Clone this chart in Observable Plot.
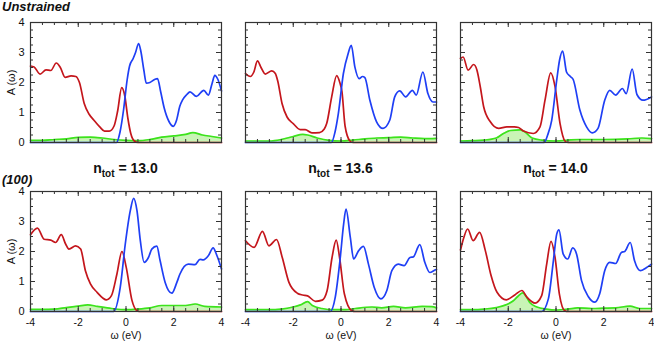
<!DOCTYPE html>
<html>
<head>
<meta charset="utf-8">
<script src="https://cdn.jsdelivr.net/npm/d3@7"></script>
<script src="https://cdn.jsdelivr.net/npm/@observablehq/plot@0.6"></script>
<style>
  body { margin: 0; background: #fff; }
  #chart { position: relative; width: 654px; height: 341px; font-family: "Liberation Sans", Arial, sans-serif; color: #111; }
  .lab { position: absolute; white-space: nowrap; font-weight: bold; }
  .row { font-style: italic; font-size: 13px; line-height: 13px; left: 2px; }
  .ntot { font-size: 14px; line-height: 14px; width: 200px; text-align: center; }
  .ntot span { font-size: 10px; position: relative; top: 4px; }
  .cell { position: absolute; }
</style>
</head>
<body>
<div id="chart"></div>
<script>
// ---- labels ----
const rowLabels = ["Unstrained", "(100)"];
const nTot = ["13.0", "13.6", "14.0"];
const xMajor = [-4, -2, 0, 2, 4];
const xMinor = [-3.5, -3, -2.5, -2, -1.5, -1, -0.5, 0, 0.5, 1, 1.5, 2, 2.5, 3, 3.5];
const yMajor = [0, 1, 2, 3, 4];
const yMinor = [0.25, 0.5, 0.75, 1.25, 1.5, 1.75, 2.25, 2.5, 2.75, 3.25, 3.5, 3.75];
const yMajorInner = [1, 2, 3];

// ---- Unstrained, n_tot = 13.0 ----
const red_u130 = [[-4,2.55],[-3.85,2.52],[-3.6,2.28],[-3.35,2.42],[-3.15,2.4],[-2.92,2.65],[-2.75,2.5],[-2.55,2.17],[-2.3,2.22],[-2.1,2.2],[-1.95,2.0],[-1.75,1.3],[-1.55,0.95],[-1.35,0.75],[-1.1,0.52],[-0.9,0.38],[-0.7,0.38],[-0.5,0.55],[-0.35,1.05],[-0.18,1.83],[-0.05,1.55],[0.08,0.8],[0.2,0.3],[0.35,0.05],[0.5,0],[4,0]];
const blue_u130 = [[-4,0],[-0.4,0],[-0.25,0.35],[-0.1,1.1],[0.05,2.1],[0.15,2.55],[0.3,2.8],[0.4,3.0],[0.53,3.3],[0.62,3.05],[0.75,2.4],[0.85,1.98],[1.0,2.0],[1.2,2.1],[1.32,2.13],[1.45,1.7],[1.6,1.15],[1.8,0.7],[1.98,0.54],[2.12,0.75],[2.25,1.2],[2.37,1.42],[2.55,1.6],[2.68,1.69],[2.95,1.54],[3.26,1.74],[3.45,1.58],[3.6,1.95],[3.72,2.24],[3.85,2.1],[4,1.72]];
const green_u130 = [[-4,0.07],[-3.5,0.07],[-3,0.1],[-2.5,0.12],[-2,0.17],[-1.5,0.18],[-1,0.15],[-0.5,0.1],[0,0.07],[0.5,0.06],[1,0.1],[1.5,0.18],[2,0.22],[2.5,0.27],[2.8,0.33],[3.2,0.25],[3.6,0.2],[4,0.15]];

// ---- Unstrained, n_tot = 13.6 ----
const red_u136 = [[-4,2.3],[-3.8,2.2],[-3.65,2.35],[-3.5,2.72],[-3.35,2.5],[-3.17,2.28],[-2.9,2.39],[-2.75,2.3],[-2.65,2.05],[-2.47,1.3],[-2.26,0.85],[-2.0,0.63],[-1.71,0.43],[-1.5,0.43],[-1.22,0.32],[-0.9,0.33],[-0.7,0.45],[-0.6,0.63],[-0.39,1.52],[-0.18,2.23],[-0.05,2.0],[0.04,1.7],[0.17,0.55],[0.375,0.05],[0.5,0],[4,0]];
const blue_u136 = [[-4,0],[-0.4,0],[-0.25,0.35],[-0.11,0.97],[0.1,2.3],[0.3,2.97],[0.43,3.24],[0.58,2.52],[0.76,2.13],[0.9,2.2],[1.0,2.16],[1.21,1.41],[1.49,0.69],[1.76,0.47],[2.04,0.74],[2.25,1.52],[2.46,1.72],[2.71,1.52],[2.99,1.74],[3.15,1.58],[3.43,2.35],[3.64,1.63],[3.85,1.35],[4,1.35]];
const green_u136 = [[-4,0.05],[-3,0.05],[-2.5,0.1],[-2,0.2],[-1.6,0.27],[-1.4,0.25],[-1,0.15],[-0.5,0.07],[0,0.05],[0.5,0.08],[1,0.12],[1.5,0.15],[2,0.16],[2.5,0.18],[3,0.15],[3.5,0.13],[4,0.14]];

// ---- Unstrained, n_tot = 14.0 ----
const red_u140 = [[-4,2.8],[-3.89,2.85],[-3.68,2.41],[-3.45,2.6],[-3.31,2.41],[-3.17,1.85],[-3.03,1.19],[-2.75,0.69],[-2.4,0.47],[-2.06,0.52],[-1.75,0.52],[-1.57,0.5],[-1.36,0.38],[-0.95,0.3],[-0.67,0.52],[-0.46,1.41],[-0.22,2.32],[-0.04,1.86],[0.17,0.63],[0.375,0.05],[0.5,0],[4,0]];
const blue_u140 = [[-4,0],[-0.5,0],[-0.35,0.25],[-0.18,0.74],[0.03,2.08],[0.15,2.75],[0.28,3.05],[0.44,2.35],[0.6,2.2],[0.72,2.1],[1.0,1.08],[1.28,0.52],[1.52,0.32],[1.76,0.47],[2.04,1.41],[2.25,1.74],[2.5,1.58],[2.78,1.8],[2.94,1.63],[3.19,2.45],[3.39,1.6],[3.64,1.41],[4,1.52]];
const green_u140 = [[-4,0.05],[-3.5,0.06],[-3,0.08],[-2.5,0.15],[-2.2,0.3],[-1.9,0.4],[-1.5,0.42],[-1.3,0.35],[-1,0.15],[-0.6,0.08],[0,0.05],[0.5,0.08],[1,0.1],[2,0.1],[3,0.12],[3.6,0.15],[4,0.13]];

// ---- (100), n_tot = 13.0 ----
const red_s130 = [[-4,2.56],[-3.71,2.78],[-3.43,2.41],[-3.15,2.38],[-2.95,2.3],[-2.71,2.56],[-2.53,2.25],[-2.39,2.08],[-2.11,2.19],[-1.9,2.08],[-1.7,1.36],[-1.49,0.92],[-1.21,0.64],[-0.82,0.39],[-0.61,0.53],[-0.38,1.25],[-0.17,2.0],[0.01,1.47],[0.25,0.37],[0.45,0.03],[0.55,0],[4,0]];
const blue_s130 = [[-4,0],[-0.52,0],[-0.24,0.81],[-0.03,2.25],[0.18,3.36],[0.32,3.77],[0.46,3.36],[0.6,2.36],[0.76,1.64],[0.94,1.8],[1.08,2.08],[1.29,2.18],[1.43,1.69],[1.64,0.97],[1.92,0.61],[2.13,0.97],[2.26,1.25],[2.61,1.58],[2.89,1.56],[3.1,1.74],[3.24,1.72],[3.45,1.86],[3.65,2.12],[3.79,1.9],[4,1.42]];
const green_s130 = [[-4,0.07],[-3.5,0.07],[-3,0.08],[-2.5,0.13],[-2,0.18],[-1.6,0.22],[-1.2,0.17],[-0.6,0.1],[0,0.06],[0.5,0.08],[1,0.12],[1.5,0.2],[2,0.2],[2.5,0.2],[2.9,0.25],[3.3,0.17],[4,0.15]];

// ---- (100), n_tot = 13.6 ----
const red_s136 = [[-4,2.36],[-3.64,2.14],[-3.29,2.67],[-3.02,2.19],[-2.7,2.4],[-2.46,1.8],[-2.18,0.97],[-1.83,0.61],[-1.6,0.55],[-1.4,0.52],[-1.07,0.34],[-0.79,0.38],[-0.58,0.7],[-0.375,1.8],[-0.2,2.38],[-0.06,1.8],[0.14,0.59],[0.46,0.02],[0.6,0],[4,0]];
const blue_s136 = [[-4,0],[-0.45,0],[-0.24,0.48],[-0.03,1.8],[0.11,2.91],[0.21,3.41],[0.39,2.47],[0.53,1.75],[0.74,2.03],[0.94,2.17],[1.15,1.58],[1.39,0.81],[1.67,0.42],[1.92,0.7],[2.13,1.36],[2.4,1.58],[2.64,1.53],[2.89,1.8],[3.03,1.82],[3.3,2.23],[3.51,1.64],[3.72,1.3],[3.93,1.38],[4,1.4]];
const green_s136 = [[-4,0.06],[-3,0.06],[-2.5,0.08],[-2,0.15],[-1.7,0.22],[-1.4,0.33],[-1.2,0.2],[-0.8,0.1],[-0.3,0.06],[0.2,0.06],[0.6,0.1],[1.3,0.15],[1.7,0.12],[2.2,0.17],[2.7,0.12],[3.4,0.17],[3.8,0.16],[4,0.12]];

// ---- (100), n_tot = 14.0 ----
const red_s140 = [[-4,2.05],[-3.86,2.47],[-3.7,2.75],[-3.47,2.36],[-3.2,2.64],[-2.96,2.03],[-2.72,1.2],[-2.47,0.64],[-2.08,0.39],[-1.71,0.56],[-1.43,0.7],[-1.22,0.48],[-0.875,0.28],[-0.6,0.53],[-0.39,1.58],[-0.21,2.34],[-0.04,1.8],[0.14,0.59],[0.375,0.02],[0.5,0],[4,0]];
const blue_s140 = [[-4,0],[-0.6,0],[-0.32,0.42],[-0.11,1.69],[0.03,2.58],[0.125,2.72],[0.3,1.92],[0.49,1.75],[0.7,2.12],[0.86,1.92],[1.07,1.03],[1.35,0.5],[1.625,0.31],[1.83,0.59],[2.04,1.36],[2.25,1.64],[2.5,1.6],[2.74,1.97],[2.875,2.0],[3.11,2.3],[3.29,1.69],[3.53,1.36],[3.78,1.46],[4,1.58]];
const green_s140 = [[-4,0.06],[-3.5,0.06],[-3,0.08],[-2.5,0.13],[-2.1,0.22],[-1.8,0.35],[-1.6,0.5],[-1.4,0.62],[-1.25,0.5],[-1.1,0.3],[-0.8,0.15],[-0.4,0.08],[0,0.05],[0.5,0.08],[0.9,0.12],[1.5,0.1],[2,0.11],[2.5,0.12],[3.1,0.18],[3.5,0.1],[4,0.1]];

const grid = [
  [[red_u130, blue_u130, green_u130], [red_u136, blue_u136, green_u136], [red_u140, blue_u140, green_u140]],
  [[red_s130, blue_s130, green_s130], [red_s136, blue_s136, green_s136], [red_s140, blue_s140, green_s140]]
];

// ---- layout ----
const colLeft = [30, 245, 460];
const rowTop = [22, 191];
const W = 191, H = 120;
const C_RED = "#c4161c", C_BLUE = "#1f3ff5", C_GREEN = "#3ce31c", C_FILL = "#c9f4b6", C_AX = "#333";
const FONT = "'Liberation Sans', Arial, sans-serif";

const chart = document.getElementById("chart");
const X = d => d[0], Y = d => d[1];

function panel(red, blue, green, showY, showX) {
  const ml = showY ? 30 : 2, mr = 2, mt = 2, mb = showX ? 30 : 2;
  const marks = [
    Plot.areaY(green, {x: X, y: Y, fill: C_FILL, curve: "monotone-x"}),
    Plot.lineY(green, {x: X, y: Y, stroke: C_GREEN, strokeWidth: 1.7, curve: "monotone-x"}),
    Plot.lineY(red, {x: X, y: Y, stroke: C_RED, strokeWidth: 1.7, curve: "monotone-x"}),
    Plot.lineY(blue, {x: X, y: Y, stroke: C_BLUE, strokeWidth: 1.7, curve: "monotone-x"}),
    // inward ticks on all four sides
    Plot.tickX(xMinor, {x: d => d, insetTop: H - 3, stroke: C_AX}),
    Plot.tickX(xMinor, {x: d => d, insetBottom: H - 3, stroke: C_AX}),
    Plot.tickX([-2, 0, 2], {x: d => d, insetTop: H - 5, stroke: C_AX}),
    Plot.tickX([-2, 0, 2], {x: d => d, insetBottom: H - 5, stroke: C_AX}),
    Plot.tickY(yMinor, {y: d => d, insetRight: W - 3, stroke: C_AX}),
    Plot.tickY(yMinor, {y: d => d, insetLeft: W - 3, stroke: C_AX}),
    Plot.tickY(yMajorInner, {y: d => d, insetRight: W - 5, stroke: C_AX}),
    Plot.tickY(yMajorInner, {y: d => d, insetLeft: W - 5, stroke: C_AX}),
    Plot.frame({stroke: C_AX, strokeWidth: 1.2})
  ];
  if (showY) marks.push(Plot.axisY(yMajor, {tickSize: 0, tickPadding: 6, fontSize: 11, tickFormat: d => String(d),
    label: "A (ω)", labelAnchor: "center", labelOffset: 23, labelArrow: "none"}));
  if (showX) marks.push(Plot.axisX(xMajor, {tickSize: 0, tickPadding: 7, fontSize: 10.5, tickFormat: d => String(d),
    label: "ω (eV)", labelAnchor: "center", labelOffset: 27, labelArrow: "none"}));
  const svg = Plot.plot({
    width: W + ml + mr, height: H + mt + mb,
    marginLeft: ml, marginRight: mr, marginTop: mt, marginBottom: mb,
    x: {domain: [-4, 4], axis: null},
    y: {domain: [0, 4], axis: null},
    style: {background: "transparent", fontFamily: FONT, fontSize: "11px", color: "#111", overflow: "visible"},
    marks
  });
  return {svg, ml, mt};
}

grid.forEach((row, r) => row.forEach(([red, blue, green], c) => {
  const {svg, ml, mt} = panel(red, blue, green, c === 0, r === 1);
  const cell = document.createElement("div");
  cell.className = "cell";
  cell.style.left = (colLeft[c] - ml) + "px";
  cell.style.top = (rowTop[r] - mt) + "px";
  cell.appendChild(svg);
  chart.appendChild(cell);
}));

// row labels
[0, 172.5].forEach((t, i) => {
  const d = document.createElement("div");
  d.className = "lab row";
  d.style.top = t + "px";
  d.textContent = rowLabels[i];
  chart.appendChild(d);
});
// n_tot labels
nTot.forEach((v, c) => {
  const d = document.createElement("div");
  d.className = "lab ntot";
  d.style.left = (colLeft[c] + W / 2 - 100) + "px";
  d.style.top = "161px";
  d.innerHTML = `n<span>tot</span> = ${v}`;
  chart.appendChild(d);
});
</script>
</body>
</html>
